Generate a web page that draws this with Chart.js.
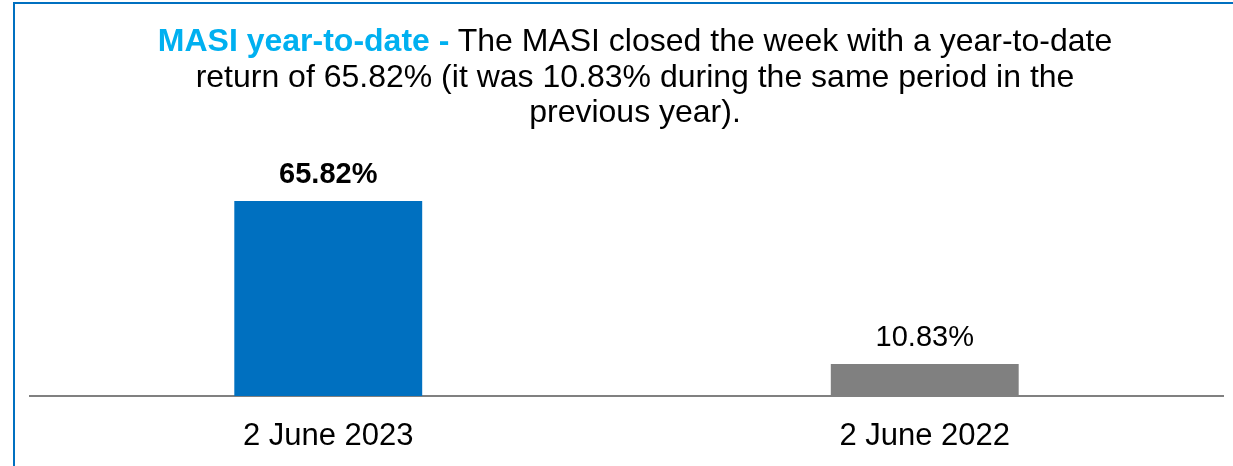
<!DOCTYPE html>
<html>
<head>
<meta charset="utf-8">
<script src="https://cdn.jsdelivr.net/npm/chart.js@4/dist/chart.umd.min.js"></script>
<style>
    html, body { margin: 0; padding: 0; background: #fff; overflow: hidden; }
    #wrap { position: relative; width: 1233px; height: 466px; }
    #frame {
        position: absolute; left: 13px; top: 2px; width: 1300px; height: 600px;
        border-left: 2px solid #0070C0; border-top: 2px solid #0070C0;
    }
    #title {
        position: absolute; left: 3px; top: 23px; width: 1264px;
        text-align: center; white-space: nowrap;
        font-family: "Liberation Sans", Arial, sans-serif; font-size: 32px; line-height: 35.5px;
        color: #000;
    }
    #title b { color: #00B0F0; }
    #myChart { position: absolute; left: 0; top: 0; }
</style>
</head>
<body>
<div id="wrap">
    <div id="frame"></div>
    <canvas id="myChart" width="1233" height="466"></canvas>
    <div id="title"><b>MASI year-to-date -</b> The MASI closed the week with a year-to-date<br>return of 65.82% (it was 10.83% during the same period in the<br>previous year).</div>
</div>
<script>
var labels = ['2 June 2023', '2 June 2022'];
var ytdReturn = [65.82, 10.83];
var barColors = ['#0070C0', '#808080'];

// value labels above the bars
var valueLabels = {
    id: 'valueLabels',
    afterDatasetsDraw: function(chart) {
        var ctx = chart.ctx;
        var meta = chart.getDatasetMeta(0);
        ctx.save();
        ctx.fillStyle = '#000';
        ctx.textAlign = 'center';
        ctx.textBaseline = 'alphabetic';
        meta.data.forEach(function(bar, i) {
            ctx.font = (i === 0 ? 'bold ' : '') + '29px "Liberation Sans", Arial, sans-serif';
            ctx.fillText(ytdReturn[i].toFixed(2) + '%', bar.x, bar.y - 18);
        });
        ctx.restore();
    }
};

var ctx = document.getElementById('myChart').getContext('2d');
var myChart = new Chart(ctx, {
    type: 'bar',
    data: {
        labels: labels,
        datasets: [{
            data: ytdReturn,
            backgroundColor: barColors,
            borderWidth: 0,
            categoryPercentage: 1,
            barPercentage: 0.315
        }]
    },
    options: {
        responsive: false,
        animation: false,
        layout: { padding: { left: 30, right: 10, top: 159, bottom: 0 } },
        plugins: { legend: { display: false }, title: { display: false }, tooltip: { enabled: false } },
        scales: {
            y: { display: false, min: 0, max: 80 },
            x: {
                grid: { display: false, drawTicks: false },
                border: { display: true, color: '#808080', width: 2 },
                ticks: {
                    color: '#000',
                    padding: 22,
                    font: { family: '"Liberation Sans", Arial, sans-serif', size: 31 }
                },
                afterFit: function(scale) { scale.height = 70; }
            }
        }
    },
    plugins: [valueLabels]
});
</script>
</body>
</html>
